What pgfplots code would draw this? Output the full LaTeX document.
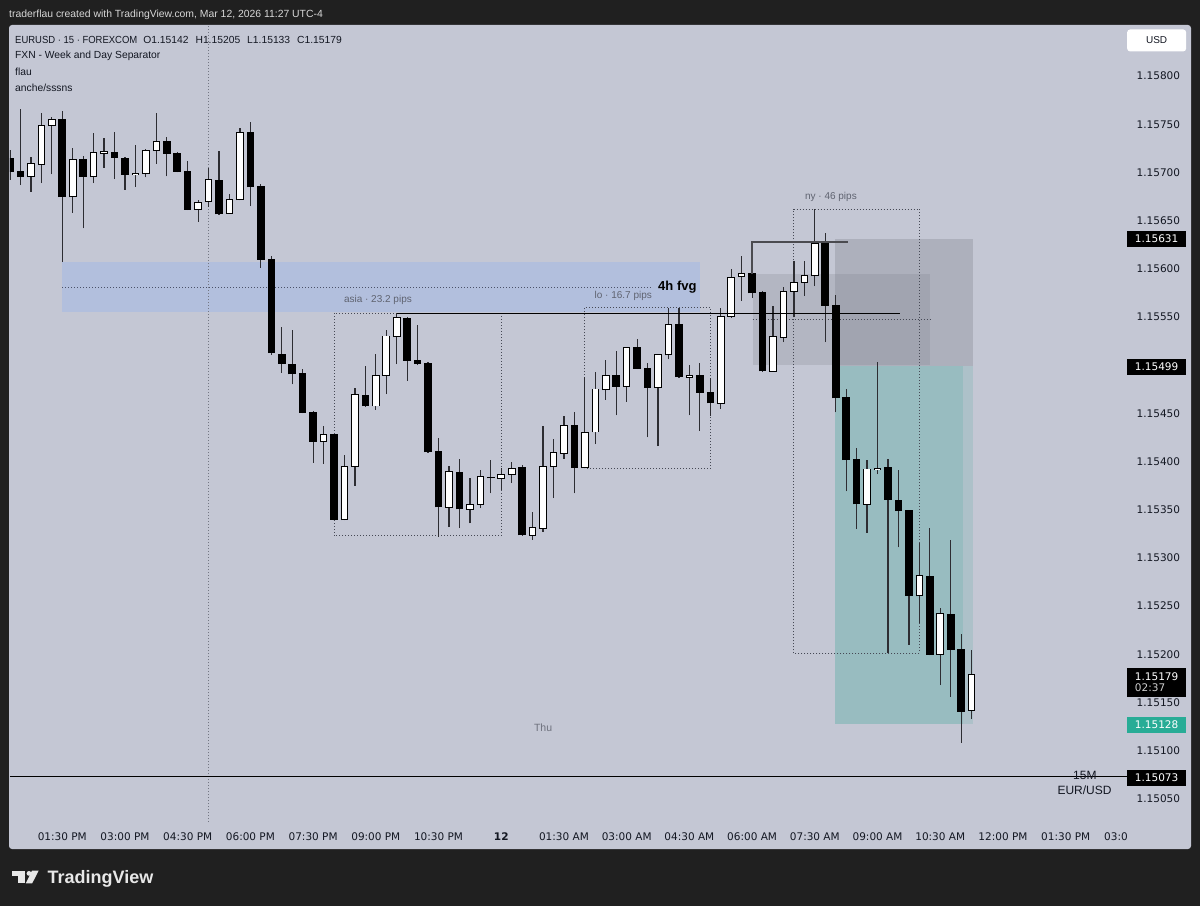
\documentclass[border=0pt]{standalone}
\usepackage{pgfplots}
\pgfplotsset{compat=1.18}
\usepackage{pgfplotstable}
\usepackage{graphicx}
\usepackage{fontspec}
\setmainfont{Liberation Sans}
\newfontfamily\dejavu{DejaVu Sans}

\definecolor{frame}{RGB}{32,32,32}
\definecolor{panel}{RGB}{196,199,212}
\definecolor{wick}{RGB}{45,45,50}
\definecolor{fvg}{RGB}{178,191,221}
\definecolor{boxgray}{RGB}{120,123,134}
\definecolor{tealz}{RGB}{8,153,129}
\definecolor{labteal}{RGB}{40,172,150}
\definecolor{txtgray}{RGB}{95,99,112}
\definecolor{sepgray}{RGB}{115,118,130}
\definecolor{dotgray}{RGB}{70,73,85}
\definecolor{fvgdot}{RGB}{75,82,105}
\definecolor{ink}{RGB}{19,23,34}
\definecolor{bracket}{RGB}{75,75,80}
\definecolor{headtxt}{RGB}{215,215,215}
\definecolor{logo}{RGB}{232,232,232}
\definecolor{thutxt}{RGB}{110,113,125}
\definecolor{timetxt}{RGB}{205,205,205}

% t = quarter hours from midnight of the 12th; O H L C
\pgfplotstableread{
t O H L C
-47 1.15715 1.15723 1.15692 1.15701
-46 1.15701 1.15766 1.15687 1.15696
-45 1.15696 1.15716 1.15680 1.15709
-44 1.15709 1.15762 1.15689 1.15748
-43 1.15749 1.15758 1.15698 1.15755
-42 1.15755 1.15764 1.15607 1.15675
-41 1.15675 1.15725 1.15658 1.15713
-40 1.15713 1.15717 1.15642 1.15696
-39 1.15696 1.15741 1.15689 1.15720
-38 1.15720 1.15736 1.15705 1.15721
-37 1.15721 1.15742 1.15693 1.15716
-36 1.15715 1.15716 1.15682 1.15698
-35 1.15698 1.15729 1.15685 1.15699
-34 1.15699 1.15724 1.15695 1.15723
-33 1.15723 1.15762 1.15709 1.15732
-32 1.15732 1.15737 1.15696 1.15720
-31 1.15720 1.15721 1.15700 1.15701
-30 1.15701 1.15712 1.15661 1.15662
-29 1.15662 1.15671 1.15649 1.15669
-28 1.15670 1.15705 1.15664 1.15692
-27 1.15692 1.15722 1.15656 1.15657
-26 1.15658 1.15678 1.15657 1.15672
-25 1.15672 1.15746 1.15671 1.15741
-24 1.15741 1.15752 1.15665 1.15685
-23 1.15685 1.15688 1.15601 1.15610
-22 1.15610 1.15613 1.15511 1.15513
-21 1.15511 1.15540 1.15492 1.15502
-20 1.15501 1.15537 1.15480 1.15491
-19 1.15491 1.15496 1.15450 1.15451
-18 1.15451 1.15452 1.15399 1.15421
-17 1.15421 1.15437 1.15398 1.15428
-16 1.15428 1.15429 1.15339 1.15340
-15 1.15340 1.15407 1.15339 1.15395
-14 1.15395 1.15476 1.15375 1.15469
-13 1.15469 1.15499 1.15457 1.15458
-12 1.15458 1.15512 1.15454 1.15489
-11 1.15490 1.15537 1.15470 1.15530
-10 1.15530 1.15554 1.15501 1.15549
-9 1.15549 1.15550 1.15484 1.15505
-8 1.15505 1.15542 1.15500 1.15502
-7 1.15502 1.15503 1.15409 1.15410
-6 1.15410 1.15424 1.15322 1.15353
-5 1.15353 1.15395 1.15332 1.15389
-4 1.15389 1.15403 1.15331 1.15351
-3 1.15351 1.15383 1.15336 1.15355
-2 1.15356 1.15391 1.15352 1.15384
-1 1.15384 1.15402 1.15367 1.15383
0 1.15383 1.15393 1.15371 1.15386
1 1.15387 1.15400 1.15378 1.15393
2 1.15394 1.15396 1.15323 1.15324
3 1.15324 1.15348 1.15319 1.15331
4 1.15331 1.15437 1.15327 1.15395
5 1.15395 1.15423 1.15362 1.15409
6 1.15409 1.15447 1.15403 1.15437
7 1.15437 1.15451 1.15367 1.15394
8 1.15394 1.15488 1.15393 1.15430
9 1.15431 1.15493 1.15418 1.15475
10 1.15475 1.15505 1.15464 1.15489
11 1.15489 1.15515 1.15448 1.15478
12 1.15478 1.15519 1.15462 1.15518
13 1.15518 1.15527 1.15496 1.15497
14 1.15497 1.15502 1.15425 1.15477
15 1.15477 1.15512 1.15416 1.15511
16 1.15511 1.15559 1.15506 1.15542
17 1.15542 1.15559 1.15487 1.15488
18 1.15488 1.15500 1.15448 1.15489
19 1.15489 1.15502 1.15432 1.15472
20 1.15472 1.15487 1.15447 1.15461
21 1.15461 1.15559 1.15455 1.15550
22 1.15551 1.15600 1.15549 1.15591
23 1.15592 1.15613 1.15567 1.15595
24 1.15595 1.15596 1.15570 1.15575
25 1.15575 1.15577 1.15493 1.15494
26 1.15494 1.15561 1.15493 1.15529
27 1.15529 1.15581 1.15524 1.15576
28 1.15577 1.15608 1.15550 1.15586
29 1.15586 1.15608 1.15572 1.15593
30 1.15593 1.15662 1.15582 1.15626
31 1.15626 1.15637 1.15524 1.15562
32 1.15562 1.15573 1.15451 1.15466
33 1.15466 1.15475 1.15369 1.15402
34 1.15402 1.15414 1.15330 1.15356
35 1.15356 1.15402 1.15326 1.15392
36 1.15392 1.15503 1.15387 1.15393
37 1.15394 1.15403 1.15201 1.15361
38 1.15360 1.15391 1.15311 1.15349
39 1.15349 1.15350 1.15210 1.15261
40 1.15261 1.15316 1.15232 1.15281
41 1.15281 1.15331 1.15199 1.15200
42 1.15200 1.15248 1.15168 1.15242
43 1.15241 1.15319 1.15156 1.15205
44 1.15205 1.15221 1.15108 1.15141
45 1.15142 1.15205 1.15133 1.15179
}\candles

\tikzset{
  dotbox/.style={draw=dotgray, line width=0.9pt, dash pattern=on 1pt off 2pt},
  pricebox/.style={fill=black, text=white, font=\dejavu\fontsize{10.5}{12}\selectfont,
    minimum width=59pt, minimum height=16pt, inner sep=0pt, anchor=west, xshift=9pt},
}
\pgfplotsset{
  candlebar/.style={draw=none, no markers, forget plot,
    error bars/y dir=plus, error bars/y explicit, error bars/error mark=none},
}

\begin{document}
\begin{tikzpicture}[x=1pt,y=1pt]
\fill[frame] (0,0) rectangle (1200,906);
\fill[panel, rounded corners=3pt] (9,57) rectangle (1191,881);

% header
\node[anchor=west, inner sep=0pt, text=headtxt,
  font=\fontsize{10.4}{12}\selectfont] at (9,891)
  {traderflau created with TradingView.com, Mar 12, 2026 11:27 UTC-4};

\begin{axis}[
  at={(10pt,84pt)}, anchor=south west,
  width=1108pt, height=796pt, scale only axis,
  xmin=-47, xmax=59, ymin=1.15026, ymax=1.15852,
  clip mode=individual,
  axis line style={draw=none}, tick style={draw=none}, major tick length=0pt,
  ytick={1.1505,1.151,1.1515,1.152,1.1525,1.153,1.1535,1.154,1.1545,1.1555,1.156,1.1565,1.157,1.1575,1.158},
  yticklabels={1.15050,1.15100,1.15150,1.15200,1.15250,1.15300,1.15350,1.15400,1.15450,1.15550,1.15600,1.15650,1.15700,1.15750,1.15800},
  yticklabel pos=right,
  yticklabel style={font=\dejavu\fontsize{10.5}{12}\selectfont, text=ink, anchor=west, inner sep=0pt, xshift=18.5pt},
  xtick={-42,-36,-30,-24,-18,-12,-6,0,6,12,18,24,30,36,42,48,54},
  xticklabels={01:30 PM,03:00 PM,04:30 PM,06:00 PM,07:30 PM,09:00 PM,10:30 PM,{\bfseries 12},01:30 AM,03:00 AM,04:30 AM,06:00 AM,07:30 AM,09:00 AM,10:30 AM,12:00 PM,01:30 PM},
  xticklabel style={font=\dejavu\fontsize{10.5}{12}\selectfont, text=ink, anchor=center, inner sep=0pt, yshift=-14.7pt},
]

% zones
\fill[fvg] (axis cs:-42,1.15555) rectangle (axis cs:19,1.15607);
\fill[boxgray, opacity=0.30] (axis cs:31.95,1.15499) rectangle (axis cs:45.15,1.15631);
\fill[boxgray, opacity=0.22] (axis cs:24.05,1.15500) rectangle (axis cs:41,1.15595);
\fill[tealz, opacity=0.12] (axis cs:31.95,1.15128) rectangle (axis cs:45.15,1.15499);
\fill[tealz, opacity=0.12] (axis cs:31.95,1.15128) rectangle (axis cs:44.15,1.15499);
\draw[draw=fvgdot, line width=0.9pt, dash pattern=on 1pt off 2pt]
  (axis cs:-42,1.15581) -- (axis cs:14.5,1.15581);
\draw[dotbox] (axis cs:24.05,1.15548) -- (axis cs:41,1.15548);

% day separator
\draw[sepgray, line width=0.8pt, dash pattern=on 1pt off 2pt] (axis cs:-28,1.15026) -- (axis cs:-28,1.15852);

% session boxes (behind the candles)
\draw[dotbox] (axis cs:-16,1.15323) rectangle (axis cs:0,1.15554);
\draw[dotbox] (axis cs:8,1.15393) rectangle (axis cs:20,1.15560);
\draw[dotbox] (axis cs:28,1.15201) rectangle (axis cs:40,1.15662);

% wicks
\addplot[candlebar, error bars/error bar style={draw=wick, line width=1.2pt}]
  table[x=t, y=L, y error plus expr=\thisrow{H}-\thisrow{L}] {\candles};
% bearish bodies
\addplot[candlebar, restrict expr to domain={\thisrow{O}-\thisrow{C}}{0.000005:1},
  error bars/error bar style={draw=black, line width=7.6pt}]
  table[x=t, y expr=\thisrow{C}-0.000005, y error plus expr=\thisrow{O}-\thisrow{C}+0.00001] {\candles};
% bullish bodies: border
\addplot[candlebar, restrict expr to domain={\thisrow{C}-\thisrow{O}}{0.000005:1},
  error bars/error bar style={draw=black, line width=7.6pt}]
  table[x=t, y expr=\thisrow{O}-0.000008, y error plus expr=\thisrow{C}-\thisrow{O}+0.000016] {\candles};
% bullish bodies: fill
\addplot[candlebar, restrict expr to domain={\thisrow{C}-\thisrow{O}}{0.000005:1},
  error bars/error bar style={draw=white, line width=5.6pt}]
  table[x=t, y expr=\thisrow{O}+0.000002, y error plus expr=\thisrow{C}-\thisrow{O}-0.000004] {\candles};

% lines
\draw[black, line width=1pt] (axis cs:-10,1.15554) -- (axis cs:38.15,1.15554);
\draw[bracket, line width=1.3pt] (axis cs:24,1.15595) -- (axis cs:24,1.15628) -- (axis cs:33.2,1.15628);
\draw[black, line width=0.9pt] (axis cs:-47,1.15073) -- (axis cs:59.86,1.15073);

% labels
\node[text=txtgray, font=\fontsize{10}{12}\selectfont] at (axis cs:-11.8,1.15568) {asia · 23.2 pips};
\node[text=txtgray, font=\fontsize{10}{12}\selectfont] at (axis cs:11.67,1.15572) {lo · 16.7 pips};
\node[text=txtgray, font=\fontsize{10}{12}\selectfont] at (axis cs:31.54,1.15675) {ny · 46 pips};
\node[anchor=east, inner sep=0pt, text=black, font=\bfseries\fontsize{13}{14}\selectfont] at (axis cs:18.7,1.15581) {4h fvg};
\node[text=thutxt, font=\fontsize{10.5}{12}\selectfont] at (axis cs:4,1.15124) {Thu};
\node[text=ink, inner sep=0pt, font=\fontsize{12}{13}\selectfont] at (axis cs:55.84,1.15074) {15M};
\node[text=ink, inner sep=0pt, font=\fontsize{12}{13}\selectfont] at (axis cs:55.8,1.15059) {EUR/USD};

% price scale labels
\node[pricebox] at (axis cs:59,1.15631) {1.15631};
\node[pricebox] at (axis cs:59,1.15498) {1.15499};
\node[pricebox, minimum height=29pt, align=left] at (axis cs:59,1.15171)
  {1.15179\\[-1pt]\textcolor{timetxt}{02:37}\hspace{14pt}};
\node[pricebox, fill=labteal] at (axis cs:59,1.15127) {1.15128};
\node[pricebox] at (axis cs:59,1.15072) {1.15073};
\node[pricebox, fill=white, text=ink, rounded corners=3pt, minimum height=22pt, font=\fontsize{10}{12}\selectfont] at (axis cs:59,1.15837) {USD};
\end{axis}

% legend text
\begin{scope}[every node/.style={anchor=west, inner sep=0pt, text=ink, font=\fontsize{10.3}{12}\selectfont}]
\node at (15,866) {\scalebox{0.92}[1]{EURUSD · 15 · FOREXCOM}\hspace{6pt}O1.15142\hspace{7pt}H1.15205\hspace{7pt}L1.15133\hspace{7pt}C1.15179};
\node at (15,850) {FXN - Week and Day Separator};
\node at (15,834) {flau};
\node at (15,818) {anche/sssns};
\end{scope}
\node[anchor=west, inner sep=0pt, text=ink, font=\dejavu\fontsize{10.5}{12}\selectfont] at (1104,69.3) {03:0};

% TradingView logo
\fill[logo] (11.7,30) rectangle (25,35.3);
\fill[logo] (18.3,22.7) rectangle (25,35.3);
\fill[logo] (29,32.6) circle (2.4);
\fill[logo] (32,35.3) -- (38.6,35.3) -- (32.2,22.7) -- (25.8,22.7) -- cycle;
\node[anchor=base west, inner sep=0pt, text=logo, font=\bfseries\fontsize{18}{20}\selectfont] at (47.5,22.7) {TradingView};

\pgfresetboundingbox
\path[use as bounding box] (0,0) rectangle (1200,906);
\end{tikzpicture}
\end{document}
